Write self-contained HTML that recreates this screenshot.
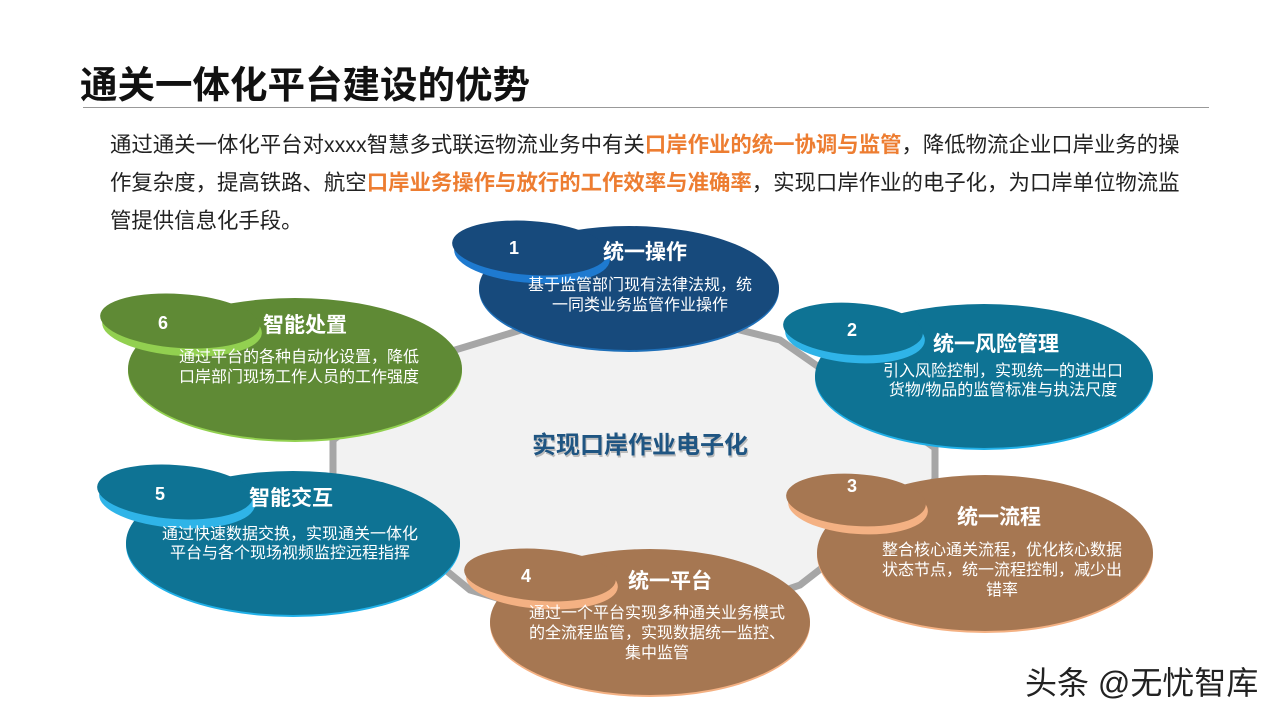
<!DOCTYPE html>
<html><head><meta charset="utf-8"><style>
body{margin:0;width:1280px;height:720px;background:#fff;overflow:hidden;position:relative;font-family:"Liberation Sans","Noto Sans CJK SC",sans-serif}
.t{position:absolute;white-space:nowrap}
</style></head><body>
<div class="t" style="left:80px;top:54px;font-size:37.5px;font-weight:bold;color:#111">通关一体化平台建设的优势</div>
<div style="position:absolute;left:83px;top:107px;width:1126px;height:1px;background:#999"></div>
<div class="t" style="left:110px;top:126px;font-size:21.4px;line-height:38px;color:#222">通过通关一体化平台对xxxx智慧多式联运物流业务中有关<b style="color:#ed7d31">口岸作业的统一协调与监管</b>，降低物流企业口岸业务的操<br>作复杂度，提高铁路、航空<b style="color:#ed7d31">口岸业务操作与放行的工作效率与准确率</b>，实现口岸作业的电子化，为口岸单位物流监<br>管提供信息化手段。</div>
<svg width="1280" height="720" style="position:absolute;left:0;top:0">
<polygon points="333,440 455,350 620,300 780,340 935,448 935,480 800,585 640,640 470,590 333,478" fill="#f2f2f2" stroke="#a6a6a6" stroke-width="7"/>
<g font-family="Liberation Sans,Noto Sans CJK SC,sans-serif" fill="#fff" text-anchor="middle">
<!-- 1 -->
<ellipse cx="629" cy="290" rx="150" ry="62" fill="#1e6fb8"/>
<ellipse cx="629" cy="288" rx="150" ry="62" fill="#174a7c"/>
<ellipse cx="532" cy="255" rx="78" ry="28" fill="#1e7ad0" transform="rotate(4 532 255)"/>
<ellipse cx="530" cy="248" rx="78" ry="27" fill="#174a7c" transform="rotate(4 530 248)"/>
<text x="514" y="254" font-size="18" font-weight="bold">1</text>
<text x="645" y="259" font-size="21" font-weight="bold">统一操作</text>
<text x="640" y="290" font-size="16">基于监管部门现有法律法规，统</text>
<text x="640" y="310" font-size="16">一同类业务监管作业操作</text>
<!-- 2 -->
<ellipse cx="984" cy="378" rx="169" ry="72" fill="#20b0e8"/>
<ellipse cx="984" cy="376" rx="169" ry="72" fill="#0e7394"/>
<ellipse cx="855" cy="336" rx="70" ry="27" fill="#2fb4e8" transform="rotate(4 855 336)"/>
<ellipse cx="853" cy="329" rx="70" ry="26" fill="#0e7394" transform="rotate(4 853 329)"/>
<text x="852" y="336" font-size="18" font-weight="bold">2</text>
<text x="996" y="351" font-size="21" font-weight="bold">统一风险管理</text>
<text x="1003" y="376" font-size="16">引入风险控制，实现统一的进出口</text>
<text x="1003" y="395" font-size="16">货物/物品的监管标准与执法尺度</text>
<!-- 3 -->
<ellipse cx="985" cy="555" rx="168" ry="78" fill="#f4b183"/>
<ellipse cx="985" cy="553" rx="168" ry="78" fill="#a67752"/>
<ellipse cx="858" cy="507" rx="70" ry="27" fill="#f4b183" transform="rotate(4 858 507)"/>
<ellipse cx="856" cy="500" rx="70" ry="26" fill="#a67752" transform="rotate(4 856 500)"/>
<text x="852" y="492" font-size="18" font-weight="bold">3</text>
<text x="999" y="524" font-size="21" font-weight="bold">统一流程</text>
<text x="1002" y="555" font-size="16">整合核心通关流程，优化核心数据</text>
<text x="1002" y="575" font-size="16">状态节点，统一流程控制，减少出</text>
<text x="1002" y="595" font-size="16">错率</text>
<!-- 4 -->
<ellipse cx="650" cy="624" rx="160" ry="73" fill="#f4b183"/>
<ellipse cx="650" cy="622" rx="160" ry="73" fill="#a67752"/>
<ellipse cx="542" cy="582" rx="76" ry="27" fill="#f4b183" transform="rotate(4 542 582)"/>
<ellipse cx="540" cy="575" rx="76" ry="26" fill="#a67752" transform="rotate(4 540 575)"/>
<text x="526" y="582" font-size="18" font-weight="bold">4</text>
<text x="670" y="588" font-size="21" font-weight="bold">统一平台</text>
<text x="657" y="618" font-size="16">通过一个平台实现多种通关业务模式</text>
<text x="657" y="638" font-size="16">的全流程监管，实现数据统一监控、</text>
<text x="657" y="658" font-size="16">集中监管</text>
<!-- 5 -->
<ellipse cx="293" cy="545" rx="167" ry="72" fill="#20b0e8"/>
<ellipse cx="293" cy="543" rx="167" ry="72" fill="#0e7394"/>
<ellipse cx="177" cy="500" rx="78" ry="28" fill="#2fb4e8" transform="rotate(4 177 500)"/>
<ellipse cx="175" cy="492" rx="78" ry="27" fill="#0e7394" transform="rotate(4 175 492)"/>
<text x="160" y="500" font-size="18" font-weight="bold">5</text>
<text x="291" y="505" font-size="21" font-weight="bold">智能交互</text>
<text x="290" y="539" font-size="16">通过快速数据交换，实现通关一体化</text>
<text x="290" y="558" font-size="16">平台与各个现场视频监控远程指挥</text>
<!-- 6 -->
<ellipse cx="295" cy="371" rx="167" ry="71" fill="#92d050"/>
<ellipse cx="295" cy="369" rx="167" ry="71" fill="#5f8a35"/>
<ellipse cx="182" cy="328" rx="80" ry="28" fill="#92d050" transform="rotate(4 182 328)"/>
<ellipse cx="180" cy="321" rx="80" ry="27" fill="#5f8a35" transform="rotate(4 180 321)"/>
<text x="163" y="329" font-size="18" font-weight="bold">6</text>
<text x="305" y="332" font-size="21" font-weight="bold">智能处置</text>
<text x="299" y="362" font-size="16">通过平台的各种自动化设置，降低</text>
<text x="299" y="382" font-size="16">口岸部门现场工作人员的工作强度</text>
</g>
<text x="640" y="453" text-anchor="middle" font-family="Liberation Sans,Noto Sans CJK SC,sans-serif" font-size="24" font-weight="bold" fill="#bbb" transform="translate(1,2)">实现口岸作业电子化</text>
<text x="640" y="453" text-anchor="middle" font-family="Liberation Sans,Noto Sans CJK SC,sans-serif" font-size="24" font-weight="bold" fill="#1f5582">实现口岸作业电子化</text>
</svg>
<div class="t" style="left:1025px;top:666px;font-size:32px;line-height:34px;color:#222">头条 @无忧智库</div>
</body></html>
